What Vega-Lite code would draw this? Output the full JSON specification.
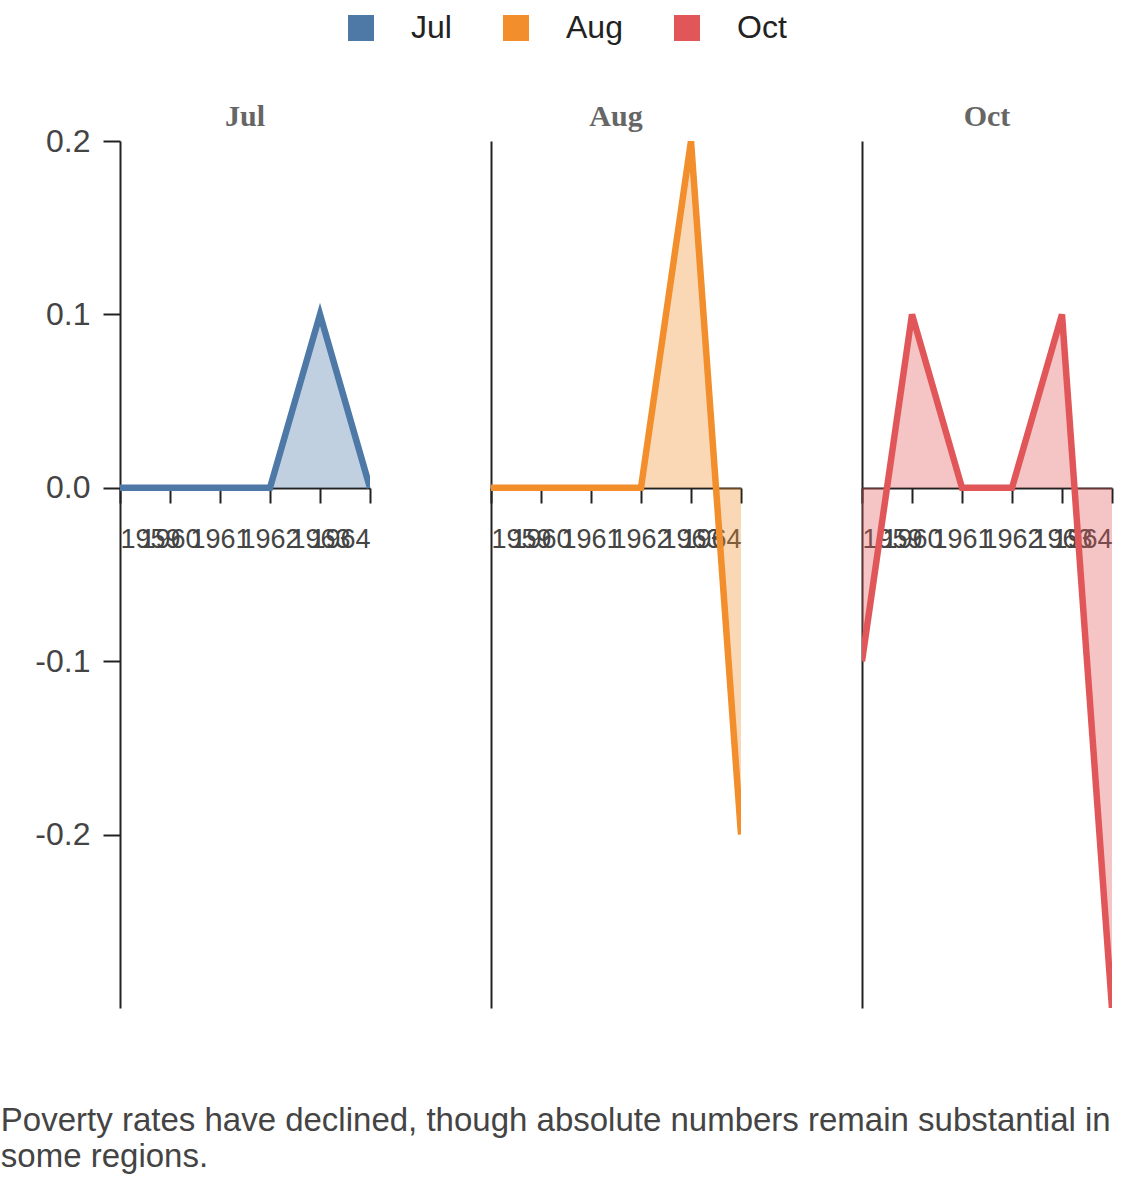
{
  "$schema": "https://vega.github.io/schema/vega-lite/v6.json",
  "padding": {"left": 0, "top": 12, "right": 10, "bottom": 10},
  "data": {
    "values": [
      {"month": "Jul", "year": 1959, "value": 0},
      {"month": "Jul", "year": 1960, "value": 0},
      {"month": "Jul", "year": 1961, "value": 0},
      {"month": "Jul", "year": 1962, "value": 0},
      {"month": "Jul", "year": 1963, "value": 0.1},
      {"month": "Jul", "year": 1964, "value": 0},
      {"month": "Aug", "year": 1959, "value": 0},
      {"month": "Aug", "year": 1960, "value": 0},
      {"month": "Aug", "year": 1961, "value": 0},
      {"month": "Aug", "year": 1962, "value": 0},
      {"month": "Aug", "year": 1963, "value": 0.2},
      {"month": "Aug", "year": 1964, "value": -0.2},
      {"month": "Oct", "year": 1959, "value": -0.1},
      {"month": "Oct", "year": 1960, "value": 0.1},
      {"month": "Oct", "year": 1961, "value": 0},
      {"month": "Oct", "year": 1962, "value": 0},
      {"month": "Oct", "year": 1963, "value": 0.1},
      {"month": "Oct", "year": 1964, "value": -0.3}
    ]
  },
  "title": {
    "text": ["Poverty rates have declined, though absolute numbers remain substantial in", "some regions."],
    "orient": "bottom",
    "anchor": "start",
    "fontSize": 33,
    "fontWeight": "normal",
    "color": "#444",
    "lineHeight": 36,
    "offset": 97,
    "dx": -34
  },
  "spacing": 119,
  "hconcat": [
    {
      "width": 250,
      "height": 867,
      "title": {"text": "Jul", "anchor": "middle", "frame": "group", "font": "Liberation Serif", "fontSize": 30, "fontWeight": "bold", "color": "#666", "offset": -7},
      "transform": [{"filter": "datum.month === 'Jul'"}],
      "encoding": {
        "x": {"field": "year", "type": "quantitative", "title": null,
          "scale": {"domain": [1959, 1964], "nice": false, "zero": false},
          "axis": {"values": [1959, 1960, 1961, 1962, 1963, 1964], "format": "d", "offset": -520}},
        "y": {"field": "value", "type": "quantitative", "title": null,
          "scale": {"domain": [-0.3, 0.2], "nice": false},
          "axis": {"values": [-0.2, -0.1, 0, 0.1, 0.2],
            "labelExpr": "datum.value < 0 ? '-' + format(-datum.value, '.1f') : format(datum.value, '.1f')",
            "tickSize": 17, "labelPadding": 13, "labelFontSize": 32}},
        "color": {"field": "month", "type": "nominal", "scale": {"domain": ["Jul", "Aug", "Oct"], "range": ["#4e79a7", "#f28e2b", "#e15759"]}}
      },
      "layer": [
        {"mark": {"type": "area", "fillOpacity": 0.35, "clip": true}, "encoding": {"y2": {"datum": 0}}},
        {"mark": {"type": "line", "strokeWidth": 6.5, "clip": true}}
      ]
    },
    {
      "width": 250,
      "height": 867,
      "title": {"text": "Aug", "anchor": "middle", "frame": "group", "font": "Liberation Serif", "fontSize": 30, "fontWeight": "bold", "color": "#666", "offset": 9},
      "transform": [{"filter": "datum.month === 'Aug'"}],
      "encoding": {
        "x": {"field": "year", "type": "quantitative", "title": null,
          "scale": {"domain": [1959, 1964], "nice": false, "zero": false},
          "axis": {"values": [1959, 1960, 1961, 1962, 1963, 1964], "format": "d", "offset": -520}},
        "y": {"field": "value", "type": "quantitative", "title": null,
          "scale": {"domain": [-0.3, 0.2], "nice": false},
          "axis": {"labels": false, "ticks": false}},
        "color": {"field": "month", "type": "nominal", "scale": {"domain": ["Jul", "Aug", "Oct"], "range": ["#4e79a7", "#f28e2b", "#e15759"]}}
      },
      "layer": [
        {"mark": {"type": "area", "fillOpacity": 0.35, "clip": true}, "encoding": {"y2": {"datum": 0}}},
        {"mark": {"type": "line", "strokeWidth": 6.5, "clip": true}}
      ]
    },
    {
      "width": 250,
      "height": 867,
      "title": {"text": "Oct", "anchor": "middle", "frame": "group", "font": "Liberation Serif", "fontSize": 30, "fontWeight": "bold", "color": "#666", "offset": 9},
      "transform": [{"filter": "datum.month === 'Oct'"}],
      "encoding": {
        "x": {"field": "year", "type": "quantitative", "title": null,
          "scale": {"domain": [1959, 1964], "nice": false, "zero": false},
          "axis": {"values": [1959, 1960, 1961, 1962, 1963, 1964], "format": "d", "offset": -520}},
        "y": {"field": "value", "type": "quantitative", "title": null,
          "scale": {"domain": [-0.3, 0.2], "nice": false},
          "axis": {"labels": false, "ticks": false}},
        "color": {"field": "month", "type": "nominal", "scale": {"domain": ["Jul", "Aug", "Oct"], "range": ["#4e79a7", "#f28e2b", "#e15759"]}}
      },
      "layer": [
        {"mark": {"type": "area", "fillOpacity": 0.35, "clip": true}, "encoding": {"y2": {"datum": 0}}},
        {"mark": {"type": "line", "strokeWidth": 6.5, "clip": true}}
      ]
    }
  ],
  "config": {
    "font": "Liberation Sans",
    "view": {"stroke": null},
    "axis": {
      "grid": false,
      "domainColor": "#222",
      "domainWidth": 2,
      "tickColor": "#222",
      "tickWidth": 2,
      "labelColor": "#444"
    },
    "axisX": {"tickSize": 15, "labelPadding": 23, "labelOverlap": false, "labelFlush": true,
      "labelFontSize": 27},
    "legend": {
      "orient": "none",
      "legendX": 225,
      "legendY": -129,
      "direction": "horizontal",
      "title": null,
      "symbolType": "square",
      "symbolSize": 676,
      "symbolOpacity": 1,
      "symbolStrokeWidth": 0,
      "labelFontSize": 32,
      "labelColor": "#222",
      "labelOffset": 34,
      "columnPadding": 48
    }
  }
}
